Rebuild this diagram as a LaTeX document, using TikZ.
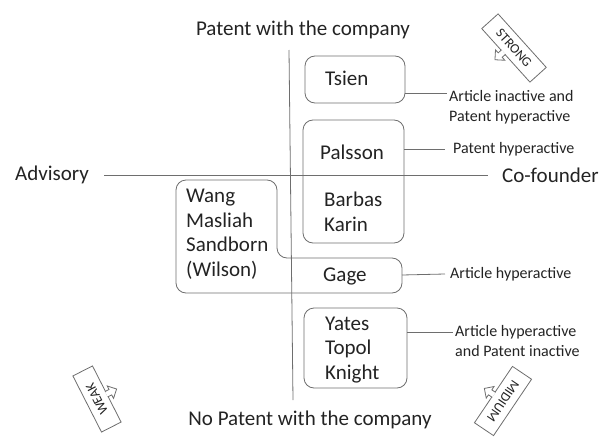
\documentclass[tikz,border=0pt]{standalone}
\usepackage{fontspec}
\setmainfont{Carlito}
\definecolor{linegray}{RGB}{110,110,110}
\definecolor{textgray}{RGB}{35,35,35}

\begin{document}
\begin{tikzpicture} [x=1pt, y=-1pt,
	person/.style = {anchor=west, inner sep=2pt, align=left, text=textgray, font=\fontsize{21}{24.5}\selectfont},
	note/.style = {inner sep=2pt, align=left, text=textgray, font=\fontsize{16}{20}\selectfont},
	box/.style = {draw=linegray, line width=0.8, rounded corners=10},
	axis/.style = {draw=linegray, line width=0.8},
	lead/.style = {draw=linegray, line width=0.8},
	sign/.style = {draw=linegray, fill=white, line width=0.8, minimum height=22, inner sep=0, text=textgray, font=\fontsize{13.5}{15}\selectfont},
	signarrow/.style = {draw=linegray, fill=white, line width=0.8}]
	\useasboundingbox (0,0) rectangle (608,439);
	% axes
	\node[person, anchor=center] (withpatent) at (303,30) {Patent with the company};
	\node[person, anchor=center] (nopatent) at (310,420) {No Patent with the company};
	\node[person] (advisory) at (13,175) {Advisory};
	\node[person] (cofounder) at (500,175) {Co-founder};
	\coordinate (top) at (289,50);
	\coordinate (bottom) at (293,400);
	\draw[axis] (top) -- (bottom);
	\draw[axis] ([xshift=13]advisory.east) -- ([xshift=-12]cofounder.west);
	% boxes
	\node[box, minimum width=100, minimum height=47] (tsienbox) at (355,79.5) {};
	\node[person] (tsien) at (323,78) {Tsien};
	\node[box, minimum width=101, minimum height=123] (palssonbox) at (353.5,181.5) {};
	\node[person] (palsson) at (318,152) {Palsson};
	\node[person] (barbas) at (322,212) {Barbas\\Karin};
	\draw[box] (277,258) -- (277,180) -- (176,180) -- (176,293) -- (402,293) -- (402,258) -- cycle;
	\node[person] (wang) at (184,234) {Wang\\Masliah\\Sandborn\\(Wilson)};
	\node[person] (gage) at (321,276) {Gage};
	\coordinate (gageedge) at (402,275);
	\node[box, minimum width=103, minimum height=80] (yatesbox) at (355.5,348) {};
	\node[person] (yates) at (323,350) {Yates\\Topol\\Knight};
	% labels
	\node[note, anchor=north west] (tsienlbl) at (447,88) {Article inactive and\\Patent hyperactive};
	\node[note, anchor=west] (palssonlbl) at (451,149) {Patent hyperactive};
	\node[note, anchor=west] (gagelbl) at (448,274) {Article hyperactive};
	\node[note, anchor=north west] (yateslbl) at (453,323) {Article hyperactive\\and Patent inactive};
	\draw[lead] (tsienbox.east |- 0,93) -- (tsienlbl.west |- 0,93);
	\draw[lead] (palssonbox.east |- palssonlbl.west) -- ([xshift=-6]palssonlbl.west);
	\draw[lead] (gageedge) -- ([xshift=-3]gagelbl.west);
	\draw[lead] (yatesbox.east |- 0,332) -- (yateslbl.west |- 0,332);
	% signs
	\begin{scope}[shift={(514,48)}, rotate=-48, y=1pt, transform shape]
		\node[sign, minimum width=72] (strong) at (0,0) {STRONG};
		\draw[signarrow] (-7,-10.5) -- (-7,-15) -- (-11,-15) -- (-4,-22) -- (3,-15) -- (-1,-15) -- (-1,-10.5);
	\end{scope}
	\begin{scope}[shift={(97,399)}, rotate=117, y=1pt, transform shape]
		\node[sign, minimum width=63] (weak) at (0,0) {WEAK};
		\draw[signarrow] (-3,-10.5) -- (-3,-15) -- (-7,-15) -- (0,-22) -- (7,-15) -- (3,-15) -- (3,-10.5);
	\end{scope}
	\begin{scope}[shift={(503,401)}, rotate=-124, y=1pt, transform shape]
		\node[sign, minimum width=68, minimum height=23] (midium) at (0,0) {MIDIUM};
		\draw[signarrow] (-3,-11) -- (-3,-15.5) -- (-7,-15.5) -- (0,-22.5) -- (7,-15.5) -- (3,-15.5) -- (3,-11);
	\end{scope}
\end{tikzpicture}
\end{document}
